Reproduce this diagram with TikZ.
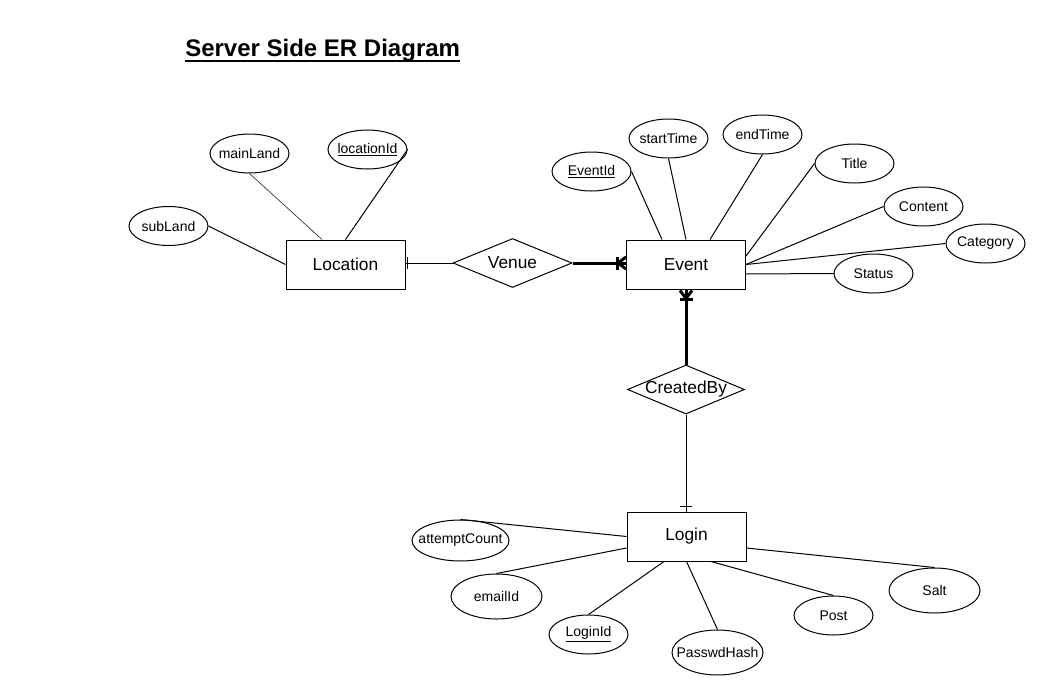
\documentclass[tikz,border=0pt]{standalone}
\usepackage{fontspec}
\setmainfont{Liberation Sans}
\usetikzlibrary{shapes.geometric,calc}
\newcommand\attxt[1]{\makebox[0pt]{#1}}
\begin{document}
\begin{tikzpicture}[x=0.75pt,y=-0.75pt,
  ent/.style={draw,rectangle,line width=0.75pt,minimum width=89.25pt,minimum height=36.75pt,inner sep=0,font=\fontsize{13}{15}\selectfont},
  rel/.style={draw,diamond,line width=0.75pt,minimum width=89.25pt,minimum height=36.75pt,inner sep=0,font=\fontsize{13}{15}\selectfont},
  attr/.style={draw,ellipse,line width=0.75pt,minimum width=59.25pt,minimum height=29.25pt,inner sep=0,font=\fontsize{10.5}{12}\selectfont},
  ln/.style={line width=0.75pt},
  thinln/.style={line width=0.5pt,black!80},
  heavy/.style={line width=2.25pt,line join=round},
]
\useasboundingbox (0,0) rectangle (1046,696);
\node[anchor=base west,inner sep=0,font=\fontsize{18}{21}\bfseries\selectfont] (title) at (185,56) {Server Side ER Diagram};
\draw[line width=1.5pt] ($(title.base west)+(0,4.5)$) -- ($(title.base east)+(0,4.5)$);

% entities and relations
\node[ent] (location) at (345.5,264.5) {Location};
\node[rel] (venue) at (512.5,263) {\attxt{Venue}};
\node[ent] (event) at (686,264.5) {Event};
\node[rel, minimum width=87.75pt] (createdby) at (686,389.5) {\attxt{CreatedBy}};
\node[ent] (login) at (686.5,536.5) {Login};

% attributes
\node[attr] (subland) at (168.5,226) {\attxt{subLand}};
\node[attr] (mainland) at (249.5,153.5) {\attxt{mainLand}};
\node[attr] (locid) at (367.5,149.5) {\attxt{\underline{locationId}}};
\node[attr] (eventid) at (591.5,171.5) {\attxt{\underline{EventId}}};
\node[attr] (starttime) at (668.5,138.5) {\attxt{startTime}};
\node[attr] (endtime) at (762.5,134.5) {\attxt{endTime}};
\node[attr] (titleattr) at (854.5,163.5) {\attxt{Title}};
\node[attr] (content) at (923.5,206.5) {\attxt{Content}};
\node[attr] (category) at (985.5,243.5) {\attxt{Category}};
\node[attr] (status) at (873.5,273.5) {\attxt{Status}};
\node[attr, minimum width=72.75pt, minimum height=30.75pt] (attempt) at (460.5,540.5) {\attxt{attemptCount}};
\node[attr, minimum width=68.25pt, minimum height=33.75pt] (email) at (496.5,596.5) {\attxt{emailId}};
\node[attr] (loginid) at (588.5,634.5) {\attxt{\underline{LoginId}}};
\node[attr, minimum width=68.25pt, minimum height=33.75pt] (pwd) at (717.5,652.5) {\attxt{PasswdHash}};
\node[attr] (post) at (833.5,615.5) {\attxt{Post}};
\node[attr, minimum width=68.25pt, minimum height=33.75pt] (salt) at (934.5,590.5) {\attxt{Salt}};

% attribute links: Location
\draw[ln] (subland.east) -- (location.west);
\draw[thinln] (mainland.south) -- ($(location.north)+(-23.5,0)$);
\draw[ln] (locid.east) -- (location.north);
% Event
\draw[ln] (eventid.east) -- ($(event.north)+(-24,0)$);
\draw[ln] (starttime.south) -- (event.north);
\draw[ln] (endtime.south) -- ($(event.north)+(24,0)$);
\draw[ln] (titleattr.west) -- ($(event.east)+(0,-8.5)$);
\draw[ln] (content.west) -- (event.east);
\draw[ln] (category.west) -- (event.east);
\draw[ln] (status.west) -- ($(event.east)+(0,9.5)$);
% Login
\draw[ln] (attempt.north) -- (login.west);
\draw[ln] (email.north) -- ($(login.west)+(0,11.5)$);
\draw[ln] (loginid.north) -- ($(login.south)+(-22.5,0)$);
\draw[ln] (pwd.north) -- (login.south);
\draw[ln] (post.north) -- ($(login.south)+(24.5,0)$);
\draw[ln] (salt.north) -- ($(login.east)+(0,11.5)$);

% Location - Venue
\coordinate (le) at (venue.west -| location.east);
\draw[ln] (venue.west) -- (le);
\draw[ln] ($(le)+(2,-6)$) -- ++(0,12);
% Venue - Event
\coordinate (ew) at (venue.east -| event.west);
\draw[heavy] (venue.east) -- (ew);
\draw[heavy] ($(ew)+(-9,-6.5)$) -- ++(0,13);
\draw[heavy] ($(ew)+(0,-6)$) -- ++(-8,6) -- ++(8,6);
% Event - CreatedBy
\coordinate (es) at (createdby.north |- event.south);
\draw[heavy] (createdby.north) -- (es);
\draw[heavy] ($(es)+(-6,1)$) -- ++(6,8) -- ++(6,-8);
\draw[heavy] ($(es)+(-6.5,10)$) -- ++(13,0);
% CreatedBy - Login
\coordinate (ln) at (createdby.south |- login.north);
\draw[ln] (createdby.south) -- (ln);
\draw[ln] ($(ln)+(-6,-5)$) -- ++(12,0);
\end{tikzpicture}
\end{document}
